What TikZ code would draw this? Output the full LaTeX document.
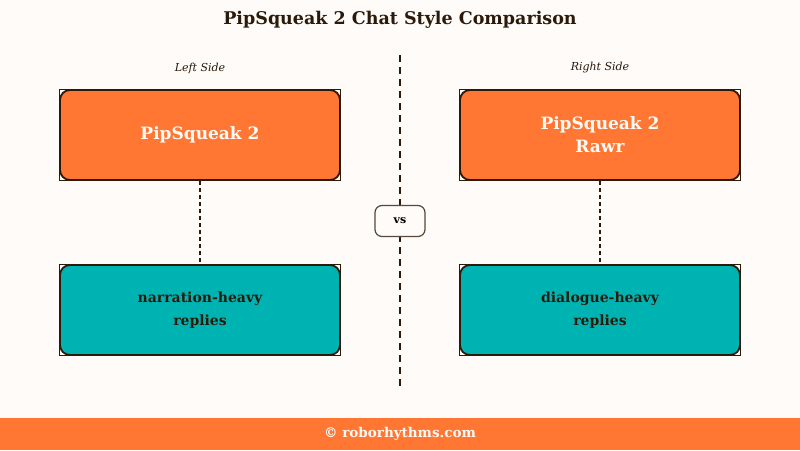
\documentclass[tikz,border=0pt]{standalone}
\usepackage{fontspec}
\setmainfont{DejaVu Serif}
\definecolor{bgcream}{HTML}{FFFBF8}
\definecolor{inkbrown}{HTML}{2B1A0A}
\definecolor{squeakorange}{HTML}{FF7733}
\definecolor{squeakteal}{HTML}{00B3B3}
\tikzset{
  chatbox/.style={draw=inkbrown, line width=1.8pt, rounded corners=10pt, minimum width=280pt, minimum height=90pt, align=center, font=\bfseries\fontsize{17}{23}\selectfont},
  cornerbox/.style={draw=inkbrown, line width=1pt, minimum width=281pt, minimum height=91pt},
  linkline/.style={inkbrown, line width=1.3pt, dash pattern=on 4pt off 3pt}
}
\begin{document}
\begin{tikzpicture}[x=1pt, y=-1pt]
	
	% BACKGROUND
	\fill[bgcream] (0, 0) rectangle (800, 450);
	\useasboundingbox (0, 0) rectangle (800, 450);
	
	% TITLE
	\node[text=inkbrown, font=\bfseries\fontsize{17.5}{20}\selectfont] (title) at (400, 20) {PipSqueak 2 Chat Style Comparison};
	
	% DIVIDER
	\coordinate (divtop) at (400, 55);
	\coordinate (divbot) at (400, 388);
	\draw[inkbrown, line width=1.8pt, dash pattern=on 7pt off 5pt] (divtop) -- (divbot);
	\node[draw=inkbrown!80, fill=bgcream, line width=1.2pt, rounded corners=7pt, minimum width=50pt, minimum height=31pt, font=\bfseries\fontsize{11}{13}\selectfont] (vs) at (400, 221) {vs};
	
	% side headings
	\node[font=\itshape\fontsize{11}{13}\selectfont, text=inkbrown] (lefthead) at (200, 68) {Left Side};
	\node[font=\itshape\fontsize{11}{13}\selectfont, text=inkbrown] (righthead) at (600, 68) {Right Side};
	
	% boxes
	\foreach \x/\y in {200/135, 200/310, 600/135, 600/310}
	\node[cornerbox] at (\x, \y) {};
	\node[chatbox, fill=squeakorange, text=bgcream] (lefttop) at (200, 135) {PipSqueak 2};
	\node[chatbox, fill=squeakorange, text=bgcream] (righttop) at (600, 135) {PipSqueak 2\\Rawr};
	\node[chatbox, fill=squeakteal, text=inkbrown, font=\bfseries\fontsize{14}{23}\selectfont] (leftbot) at (200, 310) {narration-heavy\\replies};
	\node[chatbox, fill=squeakteal, text=inkbrown, font=\bfseries\fontsize{14}{23}\selectfont] (rightbot) at (600, 310) {dialogue-heavy\\replies};
	
	% links
	\draw[linkline] (lefttop) -- (leftbot);
	\draw[linkline] (righttop) -- (rightbot);
	
	% FOOTER
	\fill[squeakorange] (0, 418) rectangle (800, 450);
	\node[text=bgcream, font=\bfseries\fontsize{13.5}{15}\selectfont] (footer) at (400, 434) {© roborhythms.com};
\end{tikzpicture}
\end{document}
